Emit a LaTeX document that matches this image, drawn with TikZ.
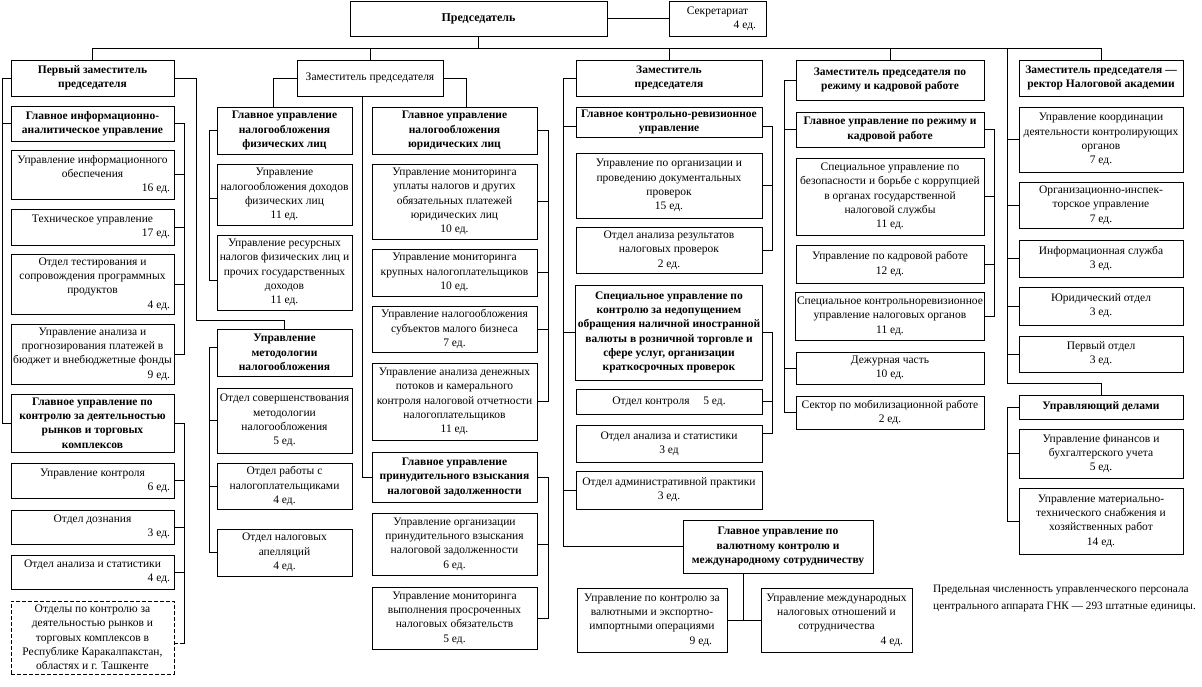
\documentclass[tikz,border=0pt]{standalone}
\usepackage{fontspec}
\setmainfont{Liberation Serif}
\tikzset{
  box/.style={draw, line width=1pt, inner sep=2pt, align=center, font=\fontsize{11.5}{14.3}\selectfont},
  bbox/.style={box, font=\fontsize{11.5}{14.3}\selectfont\bfseries},
  dbox/.style={box, dash pattern=on 4pt off 2pt},
  link/.style={line width=1pt},
}
\newcommand\bx[6][]{\node[box,#1,minimum width={#5pt-#3pt},minimum height={#6pt-#4pt}] (#2) at ({(#3+#5)/2},{(#4+#6)/2})}
\newcommand\rc[2]{\makebox[#1pt][r]{#2}}
\begin{document}
\begin{tikzpicture}[x=1pt,y=-1pt]
\useasboundingbox (0,0) rectangle (1202,686);

% top
\bx[bbox,font=\fontsize{12}{14}\selectfont\bfseries]{chair}{350}{1}{607}{36}{Председатель};
\bx{sec}{669}{1}{766}{36}{Секретариат\\\rc{77}{4 ед.}};

% column 1
\bx[bbox]{p1}{11}{60}{174}{96}{Первый заместитель\\председателя};
\bx[bbox]{c1a}{11}{106}{174}{141}{Главное информационно-\\аналитическое управление};
\bx{c1a1}{11}{150}{174}{199}{Управление информационного\\обеспечения\\\rc{155}{16 ед.}};
\bx{c1a2}{11}{209}{174}{245}{Техническое управление\\\rc{155}{17 ед.}};
\bx{c1a3}{11}{254}{174}{314}{Отдел тестирования и\\сопровождения программных\\продуктов\\\rc{155}{4 ед.}};
\bx{c1a4}{11}{324}{174}{384}{Управление анализа и\\прогнозирования платежей в\\бюджет и внебюджетные фонды\\\rc{155}{9 ед.}};
\bx[bbox]{c1b}{11}{394}{174}{452}{Главное управление по\\контролю за деятельностью\\рынков и торговых\\комплексов};
\bx{c1b1}{11}{463}{174}{498}{Управление контроля\\\rc{155}{6 ед.}};
\bx{c1b2}{11}{510}{174}{544}{Отдел дознания\\\rc{155}{3 ед.}};
\bx{c1b3}{11}{555}{174}{589}{Отдел анализа и статистики\\\rc{155}{4 ед.}};
\bx[dbox]{c1b4}{11}{601}{174}{674}{Отделы по контролю за\\деятельностью рынков и\\торговых комплексов в\\Республике Каракалпакстан,\\областях и г. Ташкенте};

% column 2
\bx{p2}{297}{60}{443}{96}{Заместитель председателя};
\bx[bbox]{c2a}{217}{107}{352}{154}{Главное управление\\налогообложения\\физических лиц};
\bx{c2a1}{217}{164}{352}{225}{Управление\\налогообложения доходов\\физических лиц\\11 ед.};
\bx{c2a2}{217}{235}{352}{310}{Управление ресурсных\\налогов физических лиц и\\прочих государственных\\доходов\\11 ед.};
\bx[bbox]{c2m}{217}{329}{352}{376}{Управление\\методологии\\налогообложения};
\bx{c2m1}{217}{388}{352}{453}{Отдел совершенствования\\методологии\\налогообложения\\5 ед.};
\bx{c2m2}{217}{463}{352}{509}{Отдел работы с\\налогоплательщиками\\4 ед.};
\bx{c2m3}{217}{529}{352}{576}{Отдел налоговых\\апелляций\\4 ед.};
\bx[bbox]{c2b}{372}{107}{537}{154}{Главное управление\\налогообложения\\юридических лиц};
\bx{c2b1}{372}{164}{537}{239}{Управление мониторинга\\уплаты налогов и других\\обязательных платежей\\юридических лиц\\10 ед.};
\bx{c2b2}{372}{249}{537}{296}{Управление мониторинга\\крупных налогоплательщиков\\10 ед.};
\bx{c2b3}{372}{306}{537}{352}{Управление налогообложения\\субъектов малого бизнеса\\7 ед.};
\bx{c2b4}{372}{363}{537}{440}{Управление анализа денежных\\потоков и камерального\\контроля налоговой отчетности\\налогоплательщиков\\11 ед.};
\bx[bbox]{c2c}{372}{452}{537}{502}{Главное управление\\принудительного взыскания\\налоговой задолженности};
\bx{c2c1}{372}{513}{537}{575}{Управление организации\\принудительного взыскания\\налоговой задолженности\\6 ед.};
\bx{c2c2}{372}{587}{537}{649}{Управление мониторинга\\выполнения просроченных\\налоговых обязательств\\5 ед.};

% column 3
\bx[bbox]{p3}{576}{60}{762}{96}{Заместитель\\председателя};
\bx[bbox]{c3a}{576}{107}{762}{137}{Главное контрольно-ревизионное\\управление};
\bx{c3a1}{576}{153}{762}{218}{Управление по организации и\\проведению документальных\\проверок\\15 ед.};
\bx{c3a2}{576}{227}{762}{273}{Отдел анализа результатов\\налоговых проверок\\2 ед.};
\bx[bbox]{c3b}{576}{285}{762}{380}{Специальное управление по\\контролю за недопущением\\обращения наличной иностранной\\валюты в розничной торговле и\\сфере услуг, организации\\краткосрочных проверок};
\bx{c3b1}{576}{389}{762}{414}{Отдел контроля\hspace{1.2em}5 ед.};
\bx{c3b2}{576}{425}{762}{462}{Отдел анализа и статистики\\3 ед};
\bx{c3c}{576}{471}{762}{509}{Отдел административной практики\\3 ед.};
\bx[bbox]{c3d}{683}{520}{873}{573}{Главное управление по\\валютному контролю и\\международному сотрудничеству};
\bx{c3d1}{577}{588}{727}{652}{Управление по контролю за\\валютными и экспортно-\\импортными операциями\\\rc{120}{9 ед.}};
\bx{c3d2}{761}{588}{912}{652}{Управление международных\\налоговых отношений и\\сотрудничества\\\rc{133}{4 ед.}};

% column 4
\bx[bbox]{p4}{796}{60}{984}{100}{Заместитель председателя по\\режиму и кадровой работе};
\bx[bbox]{c4a}{796}{112}{984}{147}{Главное управление по режиму и\\кадровой работе};
\bx{c4a1}{796}{158}{984}{235}{Специальное управление по\\безопасности и борьбе с коррупцией\\в органах государственной\\налоговой службы\\11 ед.};
\bx{c4a2}{796}{245}{984}{283}{Управление по кадровой работе\\12 ед.};
\bx{c4a3}{796}{292}{984}{340}{Специальное контрольноревизионное\\управление налоговых органов\\11 ед.};
\bx{c4b}{796}{352}{984}{384}{Дежурная часть\\10 ед.};
\bx{c4c}{796}{396}{984}{429}{Сектор по мобилизационной работе\\2 ед.};

% column 5
\bx[bbox]{p5}{1019}{60}{1183}{96}{Заместитель председателя —\\ректор Налоговой академии};
\bx{c5a}{1019}{107}{1183}{172}{Управление координации\\деятельности контролирующих\\органов\\7 ед.};
\bx{c5b}{1019}{182}{1183}{228}{Организационно-инспек-\\торское управление\\7 ед.};
\bx{c5c}{1019}{240}{1183}{277}{Информационная служба\\3 ед.};
\bx{c5d}{1019}{287}{1183}{325}{Юридический отдел\\3 ед.};
\bx{c5e}{1019}{336}{1183}{372}{Первый отдел\\3 ед.};
\bx[bbox]{c5f}{1019}{395}{1183}{419}{Управляющий делами};
\bx{c5f1}{1019}{429}{1183}{478}{Управление финансов и\\бухгалтерского учета\\5 ед.};
\bx{c5f2}{1019}{488}{1183}{554}{Управление материально-\\технического снабжения и\\хозяйственных работ\\14 ед.};

\node[anchor=north west, align=left, inner sep=0pt, font=\fontsize{11.3}{17}\selectfont] (note) at (933,585)
  {Предельная численность управленческого персонала\\центрального аппарата ГНК — 293 штатные единицы.};

% spine coordinates
\coordinate (bus) at (0,48);
\coordinate (xa) at (2,0);
\coordinate (xb) at (184,0);
\coordinate (xc) at (196,0);
\coordinate (yc) at (0,320);
\coordinate (xd) at (209,0);
\coordinate (xe) at (273,0);
\coordinate (xf) at (362,0);
\coordinate (xg) at (466,0);
\coordinate (xh) at (548,0);
\coordinate (xi) at (563,0);
\coordinate (xj) at (772,0);
\coordinate (xk) at (743,0);
\coordinate (xl) at (784,0);
\coordinate (xm) at (994,0);
\coordinate (xn) at (1007,0);
\coordinate (yn) at (0,383);

% top connectors
\draw[link] (chair.east) -- (sec.west);
\draw[link] (chair.south) -- (chair.south |- bus);
\draw[link] (p1.north |- bus) -- (p5.north |- bus);
\foreach \n in {p1,p2,p3,p4,p5} \draw[link] (\n.north) -- (\n.north |- bus);

% column 1
\draw[link] (p1.west) -- (p1.west -| xa) -- (c1b.west -| xa) -- (c1b.west);
\draw[link] (c1a.west) -- (c1a.west -| xa);
\draw[link] (c1a.east) -- (c1a.east -| xb) -- (c1a4.east -| xb) -- (c1a4.east);
\foreach \n in {c1a1,c1a2,c1a3} \draw[link] (\n.east) -- (\n.east -| xb);
\draw[link] (c1b.east) -- (c1b.east -| xb) -- ([yshift=-6pt]c1b4.east -| xb);
\draw[link,dash pattern=on 4pt off 2pt] ([yshift=-6pt]c1b4.east -| xb) -- ([yshift=-6pt]c1b4.east);
\foreach \n in {c1b1,c1b2,c1b3} \draw[link] (\n.east) -- (\n.east -| xb);
\draw[link] (p1.east) -- (p1.east -| xc) -- (xc |- yc) -- (c2m.north |- yc) -- (c2m.north);

% column 2
\draw[link] (p2.west) -- (p2.west -| xe) -- (xe |- c2a.north);
\draw[link] (p2.east) -- (p2.east -| xg) -- (xg |- c2b.north);
\draw[link] (xf |- p2.south) -- (xf |- c2c.west) -- (c2c.west);
\draw[link] (c2a.west) -- (c2a.west -| xd) -- ([yshift=-8pt]c2a2.west -| xd) -- ([yshift=-8pt]c2a2.west);
\draw[link] ([yshift=-4pt]c2a1.west) -- ([yshift=-4pt]c2a1.west -| xd);
\draw[link] ([yshift=5pt]c2m.west) -- ([yshift=5pt]c2m.west -| xd) -- (c2m3.west -| xd) -- (c2m3.west);
\foreach \n in {c2m1,c2m2} \draw[link] (\n.west) -- (\n.west -| xd);
\draw[link] (c2b.east) -- (c2b.east -| xh) -- (c2b4.east -| xh) -- (c2b4.east);
\foreach \n in {c2b1,c2b2,c2b3} \draw[link] (\n.east) -- (\n.east -| xh);
\draw[link] (c2c.east) -- (c2c.east -| xh) -- (c2c2.east -| xh) -- (c2c2.east);
\draw[link] (c2c1.east) -- (c2c1.east -| xh);

% column 3
\draw[link] (p3.west) -- (p3.west -| xi) -- (c3d.west -| xi) -- (c3d.west);
\draw[link] ([yshift=-4pt]c3a.west) -- ([yshift=-4pt]c3a.west -| xi);
\foreach \n in {c3b,c3c} \draw[link] (\n.west) -- (\n.west -| xi);
\draw[link] ([yshift=-4pt]c3a.east) -- ([yshift=-4pt]c3a.east -| xj) -- (c3a2.east -| xj) -- (c3a2.east);
\draw[link] (c3a1.east) -- (c3a1.east -| xj);
\draw[link] (c3b.east) -- (c3b.east -| xj) -- ([yshift=10pt]c3b2.east -| xj) -- ([yshift=10pt]c3b2.east);
\draw[link] (c3b1.east) -- (c3b1.east -| xj);
\draw[link] (xk |- c3d.south) -- (xk |- c3d1.east);
\draw[link] (c3d1.east) -- (c3d2.west);

% column 4
\draw[link] (p4.west) -- (p4.west -| xl) -- (c4c.west -| xl) -- (c4c.west);
\foreach \n in {c4a,c4b} \draw[link] (\n.west) -- (\n.west -| xl);
\draw[link] (c4a.east) -- (c4a.east -| xm) -- (c4a3.east -| xm) -- (c4a3.east);
\foreach \n in {c4a1,c4a2} \draw[link] (\n.east) -- (\n.east -| xm);

% column 5
\draw[link] (xn |- bus) -- (xn |- yn) -- (c5f.north |- yn) -- (c5f.north);
\foreach \n in {c5a,c5b,c5c,c5d,c5e} \draw[link] (\n.west) -- (\n.west -| xn);
\draw[link] (c5f.west) -- (c5f.west -| xn) -- (c5f2.west -| xn) -- (c5f2.west);
\draw[link] (c5f1.west) -- (c5f1.west -| xn);
\end{tikzpicture}
\end{document}
